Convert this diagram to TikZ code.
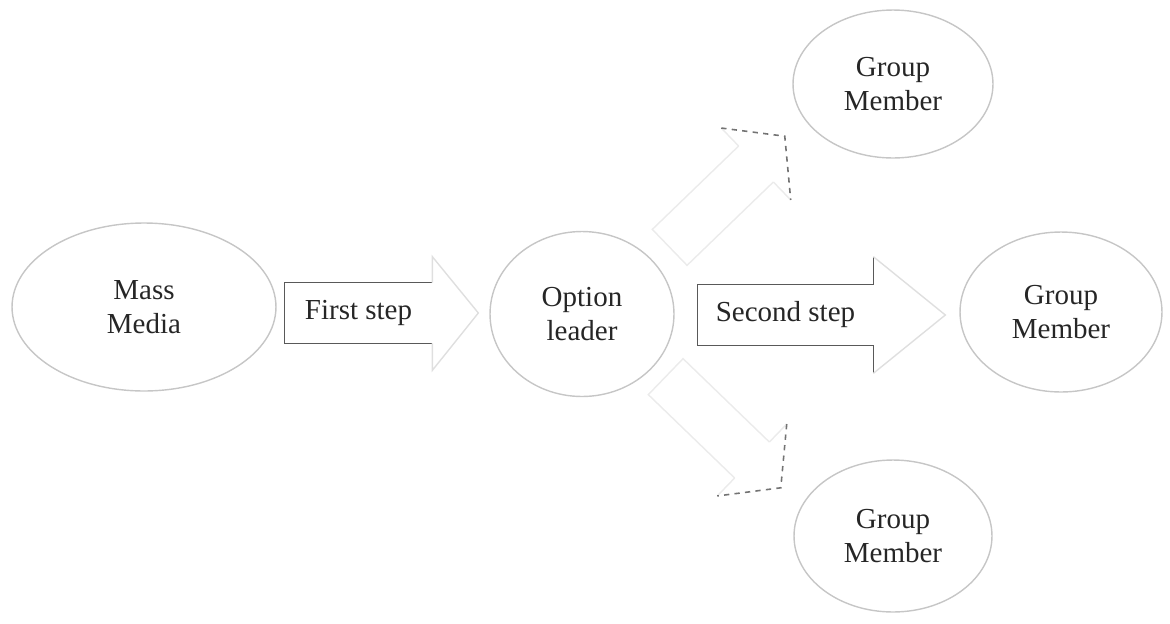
\documentclass[tikz,border=0pt]{standalone}
\usepackage{fontspec}
\setmainfont{Liberation Serif}
\usepackage{xcolor}
\usetikzlibrary{shapes.geometric,calc}

\begin{document}
\begin{tikzpicture}[
  x=0.02cm, y=-0.02cm,
  bubble/.style={ellipse, draw=gray!45, line width=0.8pt, inner sep=0pt, align=center,
    text=black!85, font=\fontsize{16.5}{19}\selectfont},
  stepbox/.style={minimum height=1.2cm, inner sep=0pt, text=black!85,
    font=\fontsize{16.5}{19}\selectfont},
  faint/.style={draw=gray!25, line width=0.8pt},
  fainter/.style={draw=gray!16, line width=0.8pt},
  dark/.style={draw=black!65, line width=0.8pt},
  headside/.style={draw=black!55, dashed, line width=0.9pt}
]
  \useasboundingbox (0,0) rectangle (1170,623);

  % circles
  \node[bubble, minimum width=5.28cm, minimum height=3.36cm] (media) at (144,307) {Mass\\Media};
  \node[bubble, minimum width=3.68cm, minimum height=3.3cm] (leader) at (582,314) {Option\\leader};
  \node[bubble, minimum width=4cm, minimum height=2.96cm] (membertop) at (893,84) {Group\\Member};
  \node[bubble, minimum width=4.04cm, minimum height=3.2cm] (memberright) at (1061,312) {Group\\Member};
  \node[bubble, minimum width=3.96cm, minimum height=3.04cm] (memberbottom) at (893,536) {Group\\Member};

  % first step
  \node[stepbox, minimum width=2.94cm] (first) at (358.5,313) {First step};
  \draw[dark] (first.north east) -- (first.north west) -- (first.south west) -- (first.south east);
  \draw[faint] (first.north east) -- ++(0,-26) -- ($(first.east)+(46,0)$)
    -- ($(first.south east)+(0,27)$) -- (first.south east);

  % second step
  \node[stepbox, minimum width=3.5cm] (second) at (785.5,315) {Second step};
  \draw[dark] (second.north east) -- (second.north west) -- (second.south west) -- (second.south east);
  \draw[dark] (second.north east) -- ++(0,-28) coordinate (s2top);
  \draw[dark] (second.south east) -- ++(0,28) coordinate (s2bot);
  \draw[faint] (s2top) -- ($(second.east)+(72,0)$) -- (s2bot);

  % to the top member
  \begin{scope}[shift={(756,164)}, rotate=44]
    \draw[fainter] (0,-25) -- (-120,-25) -- (-120,25) -- (0,25);
    \draw[fainter] (0,-25) -- (0,-50);
    \draw[fainter] (0,25) -- (0,50);
    \draw[headside] (0,-50) -- (40,0) -- (0,50);
  \end{scope}

  % to the bottom member
  \begin{scope}[shift={(752,460)}, rotate=-44]
    \draw[fainter] (0,-25) -- (-120,-25) -- (-120,25) -- (0,25);
    \draw[fainter] (0,-25) -- (0,-50);
    \draw[fainter] (0,25) -- (0,50);
    \draw[headside] (0,-50) -- (40,0) -- (0,50);
  \end{scope}
\end{tikzpicture}
\end{document}
